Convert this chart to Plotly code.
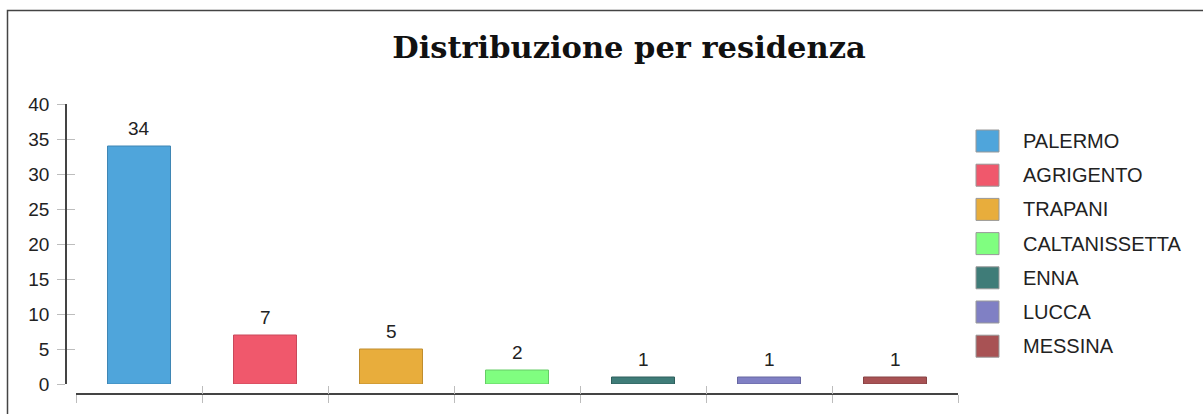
import plotly.graph_objects as go

categories = ["PALERMO", "AGRIGENTO", "TRAPANI", "CALTANISSETTA", "ENNA", "LUCCA", "MESSINA"]
values = [34, 7, 5, 2, 1, 1, 1]
colors = ["#4fa5db", "#f0586c", "#e8ad3c", "#80fe80", "#3f7c78", "#8080c4", "#a85254"]
edge_colors = ["#3f86b4", "#c9485a", "#bf8d2f", "#66cc66", "#2f5f5c", "#6666a0", "#874244"]
y_ticks = [0, 5, 10, 15, 20, 25, 30, 35, 40]
title_text = "Distribuzione per residenza"

W, H = 1203, 414
L, R, T, B = 66, W - 958, 104, H - 394
PW, PH = W - L - R, H - T - B

xs = list(range(len(categories)))

fig = go.Figure()
fig.add_trace(go.Bar(
    x=xs, y=values, width=0.5,
    marker=dict(color=colors, line=dict(color=edge_colors, width=1)),
    showlegend=False, hoverinfo="skip",
))
fig.add_trace(go.Scatter(x=[None], y=[None], xaxis="x2", yaxis="y2", showlegend=False))

xdom = [10 / PW, 1]
ydom = [10 / PH, 1]
xr = [-0.5, len(categories) - 0.5]
bounds = [i - 0.5 for i in range(len(categories) + 1)]

common_x = dict(domain=xdom, range=xr, anchor="free", position=0, tickvals=bounds,
                showticklabels=False, showgrid=False, zeroline=False, ticklen=8,
                tickcolor="#bdbdbd", tickwidth=1, automargin=False, fixedrange=True)
common_y = dict(domain=ydom, range=[0, 40], anchor="free", position=0, tickvals=y_ticks,
                showgrid=False, zeroline=False, ticklen=8, tickcolor="#bdbdbd", tickwidth=1,
                automargin=False, fixedrange=True)

fig.update_layout(
    width=W, height=H,
    margin=dict(l=L, r=R, t=T, b=B, autoexpand=False),
    paper_bgcolor="white", plot_bgcolor="white",
    xaxis=dict(**common_x, ticks="outside", showline=True, linecolor="#444", linewidth=1.5),
    xaxis2=dict(**common_x, ticks="inside", showline=False, overlaying="x"),
    yaxis=dict(**common_y, ticks="outside", showline=True, linecolor="#444", linewidth=1.5,
               ticklabelstandoff=4,
               tickfont=dict(family="Liberation Sans, Arial", size=19, color="#222")),
    yaxis2=dict(**common_y, ticks="inside", showline=False, showticklabels=False, overlaying="y"),
    title=dict(text="<b>" + title_text + "</b>", x=629 / W, xref="container", xanchor="center",
               y=1 - 47 / H, yref="container", yanchor="middle",
               font=dict(family="DejaVu Serif", size=30.5, color="#111")),
    showlegend=False,
)

# value labels above bars
for x, v in zip(xs, values):
    fig.add_annotation(x=x, y=v, text=str(v), showarrow=False, yanchor="bottom", yshift=5,
                       font=dict(family="Liberation Sans, Arial", size=19, color="#222"))

# custom legend (24px swatches)
def px_x(p):
    return (p - L) / PW

def px_y(p):
    return (H - B - p) / PH

leg_y0 = 141
leg_step = 34.2
for i, (name, c) in enumerate(zip(categories, colors)):
    cy = leg_y0 + i * leg_step
    fig.add_shape(type="rect", xref="paper", yref="paper",
                  x0=px_x(976), x1=px_x(999), y0=px_y(cy - 11), y1=px_y(cy + 11),
                  fillcolor=c, line=dict(color="#999", width=1))
    fig.add_annotation(xref="paper", yref="paper", x=px_x(1021), y=px_y(cy), text=name,
                       showarrow=False, xanchor="left", yanchor="middle",
                       font=dict(family="Liberation Sans, Arial", size=20, color="#222"))

# outer frame
fig.add_shape(type="rect", xref="paper", yref="paper",
              x0=px_x(7.5), x1=px_x(1230), y0=px_y(10.5), y1=px_y(440),
              line=dict(color="#444", width=1.5), fillcolor="rgba(0,0,0,0)", layer="below")

fig.write_html("out.html", config={"displayModeBar": False},
               post_script="document.body.style.margin='0';")
